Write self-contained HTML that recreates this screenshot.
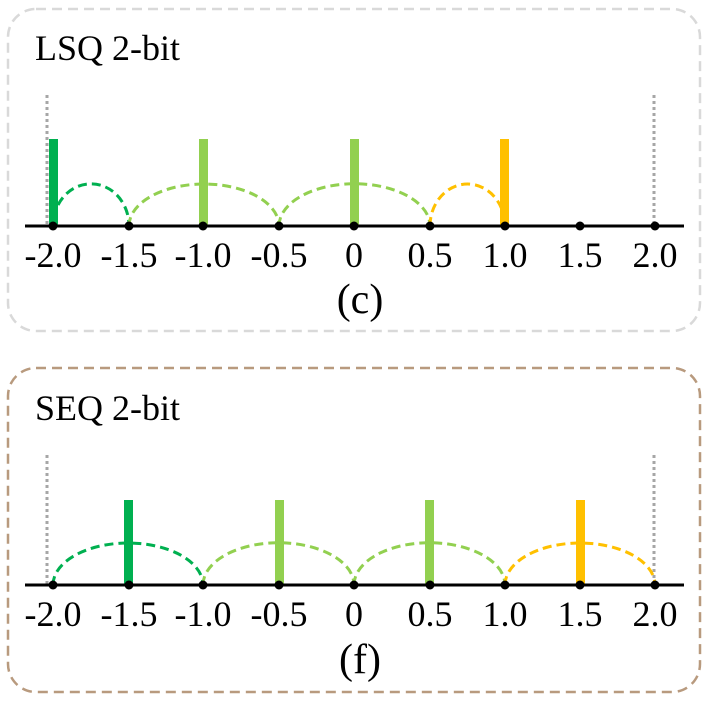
<!DOCTYPE html>
<html><head><style>body{margin:0;background:#fff}svg{display:block}</style></head><body>
<svg width="708" height="702" xmlns="http://www.w3.org/2000/svg" font-family="Liberation Serif, serif">
<rect x="8" y="9" width="692" height="322" rx="28" fill="none" stroke="#d9d9d9" stroke-width="2.5" stroke-dasharray="10,6"/>
<rect x="8" y="368" width="692" height="324" rx="28" fill="none" stroke="#b89a7e" stroke-width="2.5" stroke-dasharray="10,6"/>
<text x="35" y="60" font-size="36">LSQ 2-bit</text>
<text x="35" y="420" font-size="36">SEQ 2-bit</text>
<g stroke="#a6a6a6" stroke-width="3" stroke-dasharray="3,3">
<line x1="47" y1="95" x2="47" y2="226"/><line x1="654" y1="95" x2="654" y2="226"/>
<line x1="47" y1="455" x2="47" y2="585"/><line x1="654" y1="455" x2="654" y2="585"/>
</g>
<g fill="none" stroke-width="3" stroke-dasharray="9,5">
<path d="M58 205 A38 42 0 0 1 129 226" stroke="#00b050"/>
<path d="M129 226 A75 42 0 0 1 279 226" stroke="#92d050"/>
<path d="M279 226 A75 42 0 0 1 430 226" stroke="#92d050"/>
<path d="M430 226 A37.5 42 0 0 1 505 226" stroke="#ffc000"/>
<path d="M53 585 A75 42 0 0 1 203 585" stroke="#00b050"/>
<path d="M203 585 A75 42 0 0 1 354 585" stroke="#92d050"/>
<path d="M354 585 A75 42 0 0 1 505 585" stroke="#92d050"/>
<path d="M505 585 A75 42 0 0 1 655 585" stroke="#ffc000"/>
</g>
<rect x="49" y="139" width="9" height="87" fill="#00b050"/>
<rect x="199" y="139" width="9" height="87" fill="#92d050"/>
<rect x="350" y="139" width="9" height="87" fill="#92d050"/>
<rect x="500" y="139" width="9" height="87" fill="#ffc000"/>
<rect x="124" y="500" width="9" height="85" fill="#00b050"/>
<rect x="275" y="500" width="9" height="85" fill="#92d050"/>
<rect x="425" y="500" width="9" height="85" fill="#92d050"/>
<rect x="576" y="500" width="9" height="85" fill="#ffc000"/>
<line x1="25" y1="226" x2="684" y2="226" stroke="#000" stroke-width="3"/>
<line x1="25" y1="585" x2="684" y2="585" stroke="#000" stroke-width="3"/>
<g fill="#000">
<circle cx="53" cy="226" r="4.5"/><circle cx="129" cy="226" r="4.5"/><circle cx="203" cy="226" r="4.5"/><circle cx="279" cy="226" r="4.5"/><circle cx="354" cy="226" r="4.5"/><circle cx="430" cy="226" r="4.5"/><circle cx="505" cy="226" r="4.5"/><circle cx="580" cy="226" r="4.5"/><circle cx="655" cy="226" r="4.5"/>
<circle cx="53" cy="585" r="4.5"/><circle cx="129" cy="585" r="4.5"/><circle cx="203" cy="585" r="4.5"/><circle cx="279" cy="585" r="4.5"/><circle cx="354" cy="585" r="4.5"/><circle cx="430" cy="585" r="4.5"/><circle cx="505" cy="585" r="4.5"/><circle cx="580" cy="585" r="4.5"/><circle cx="655" cy="585" r="4.5"/>
</g>
<g font-size="36" text-anchor="middle">
<text x="53" y="267">-2.0</text><text x="129" y="267">-1.5</text><text x="203" y="267">-1.0</text><text x="279" y="267">-0.5</text><text x="354" y="267">0</text><text x="430" y="267">0.5</text><text x="505" y="267">1.0</text><text x="580" y="267">1.5</text><text x="655" y="267">2.0</text>
<text x="53" y="626">-2.0</text><text x="129" y="626">-1.5</text><text x="203" y="626">-1.0</text><text x="279" y="626">-0.5</text><text x="354" y="626">0</text><text x="430" y="626">0.5</text><text x="505" y="626">1.0</text><text x="580" y="626">1.5</text><text x="655" y="626">2.0</text>
<text x="360" y="313" font-size="42">(c)</text>
<text x="360" y="673" font-size="42">(f)</text>
</g>
</svg>
</body></html>
